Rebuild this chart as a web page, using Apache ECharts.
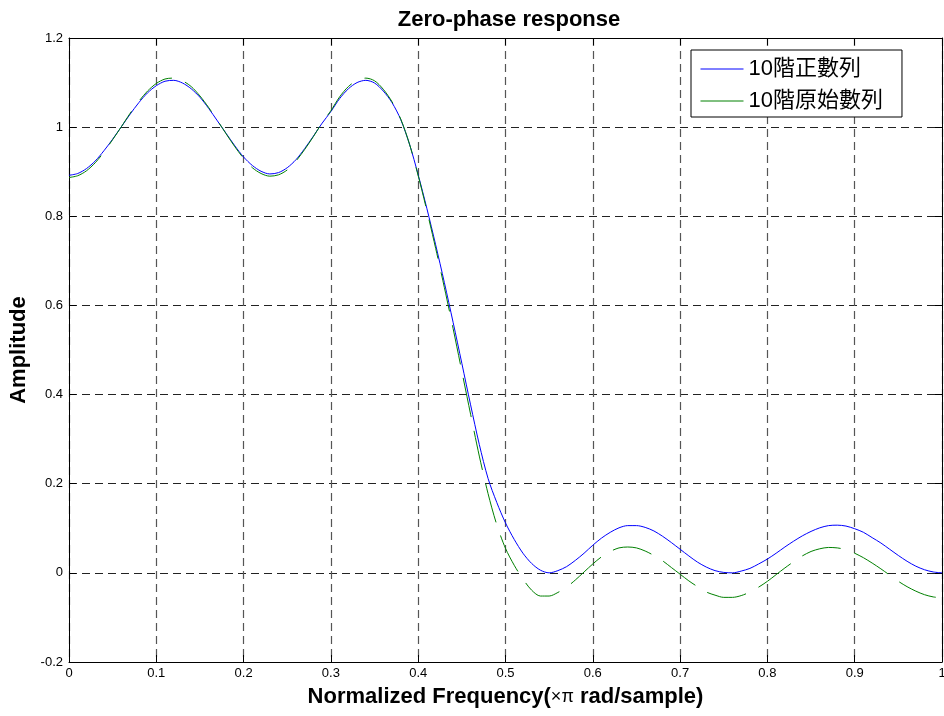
<!DOCTYPE html>
<html>
<head>
<meta charset="utf-8">
<script src="https://cdn.jsdelivr.net/npm/echarts@6/dist/echarts.min.js"></script>
<style>
  html, body { margin: 0; padding: 0; background: #fff; }
  #chart { width: 944px; height: 716px; }
</style>
</head>
<body>
<div id="chart"></div>
<script>
// 频率轴 (×π rad/sample)
var freq = [
  0.00, 0.01, 0.02, 0.03, 0.04, 0.05, 0.06, 0.07, 0.08, 0.09,
  0.10, 0.11, 0.12, 0.13, 0.14, 0.15, 0.16, 0.17, 0.18, 0.19,
  0.20, 0.21, 0.22, 0.23, 0.24, 0.25, 0.26, 0.27, 0.28, 0.29,
  0.30, 0.31, 0.32, 0.33, 0.34, 0.35, 0.36, 0.37, 0.38, 0.39,
  0.40, 0.41, 0.42, 0.43, 0.44, 0.45, 0.46, 0.47, 0.48, 0.49,
  0.50, 0.51, 0.52, 0.53, 0.54, 0.55, 0.56, 0.57, 0.58, 0.59,
  0.60, 0.61, 0.62, 0.63, 0.64, 0.65, 0.66, 0.67, 0.68, 0.69,
  0.70, 0.71, 0.72, 0.73, 0.74, 0.75, 0.76, 0.77, 0.78, 0.79,
  0.80, 0.81, 0.82, 0.83, 0.84, 0.85, 0.86, 0.87, 0.88, 0.89,
  0.90, 0.91, 0.92, 0.93, 0.94, 0.95, 0.96, 0.97, 0.98, 0.99,
  1.00
];

// 10階正數列 (blue)
var positiveAmp = [
  0.892, 0.896, 0.907, 0.924, 0.947, 0.973, 1.001, 1.029, 1.055, 1.077,
  1.093, 1.103, 1.105, 1.099, 1.086, 1.067, 1.042, 1.014, 0.986, 0.958,
  0.933, 0.914, 0.901, 0.895, 0.898, 0.909, 0.927, 0.952, 0.980, 1.009,
  1.035, 1.064, 1.086, 1.100, 1.105, 1.099, 1.081, 1.055, 1.017, 0.962,
  0.893, 0.817, 0.736, 0.651, 0.562, 0.470, 0.377, 0.288, 0.212, 0.158,
  0.112, 0.075, 0.044, 0.021, 0.006, 0.000, 0.005, 0.014, 0.028, 0.044,
  0.062, 0.078, 0.091, 0.101, 0.106, 0.106, 0.102, 0.094, 0.082, 0.068,
  0.053, 0.038, 0.024, 0.013, 0.005, 0.001, 0.000, 0.004, 0.010, 0.020,
  0.031, 0.044, 0.058, 0.071, 0.083, 0.093, 0.101, 0.106, 0.107, 0.105,
  0.099, 0.091, 0.079, 0.067, 0.053, 0.039, 0.026, 0.015, 0.007, 0.002,
  0.000
];

// 10階原始數列 (green, dashed)
var originalAmp = [
  0.887, 0.891, 0.902, 0.920, 0.944, 0.972, 1.001, 1.031, 1.058, 1.081,
  1.098, 1.108, 1.110, 1.104, 1.091, 1.070, 1.044, 1.015, 0.985, 0.956,
  0.930, 0.909, 0.896, 0.890, 0.893, 0.904, 0.924, 0.950, 0.979, 1.010,
  1.037, 1.068, 1.091, 1.105, 1.110, 1.104, 1.085, 1.057, 1.018, 0.962,
  0.891, 0.812, 0.728, 0.640, 0.548, 0.452, 0.356, 0.262, 0.178, 0.108,
  0.055, 0.017, -0.014, -0.039, -0.052, -0.052, -0.044, -0.032, -0.016, 0.002,
  0.020, 0.036, 0.048, 0.056, 0.058, 0.056, 0.049, 0.039, 0.027, 0.012,
  -0.003, -0.018, -0.031, -0.043, -0.050, -0.055, -0.055, -0.051, -0.043, -0.032,
  -0.019, -0.004, 0.011, 0.025, 0.038, 0.048, 0.054, 0.057, 0.056, 0.052,
  0.044, 0.034, 0.022, 0.009, -0.005, -0.019, -0.031, -0.041, -0.049, -0.054,
  -0.056
];

var seriesNames = ['10階正數列', '10階原始數列'];

function pairs(xs, ys) {
  return xs.map(function (x, i) { return [x, ys[i]]; });
}

var font = 'Liberation Sans, Arial, Helvetica, sans-serif';

var chart = echarts.init(document.getElementById('chart'));
chart.setOption({
  animation: false,
  backgroundColor: '#fff',
  textStyle: { fontFamily: font },
  title: {
    text: 'Zero-phase response',
    left: 504,
    top: 4,
    textAlign: 'center',
    textStyle: { fontSize: 22, fontWeight: 'bold', color: '#000', fontFamily: font }
  },
  grid: { left: 69, right: 2, top: 38, bottom: 54, containLabel: false, outerBoundsMode: 'none' },
  legend: {
    orient: 'vertical',
    left: 691,
    top: 50,
    padding: [8, 19, 5, 9],
    itemGap: 10,
    itemWidth: 43,
    itemHeight: 22,
    selectedMode: false,
    backgroundColor: '#fff',
    borderColor: '#000',
    borderWidth: 1,
    borderRadius: 0,
    itemStyle: { opacity: 0, borderWidth: 0 },
    lineStyle: { type: 'solid', width: 1, opacity: 1 },
    textStyle: { fontSize: 22, color: '#000', fontFamily: 'Liberation Sans, "Noto Sans CJK TC", sans-serif' },
    data: seriesNames
  },
  xAxis: [
    {
      type: 'value',
      min: 0,
      max: 1,
      interval: 0.1,
      name: '{a|Normalized Frequency(}{b|×π}{a| rad/sample)}',
      nameLocation: 'middle',
      nameGap: 24,
      nameTextStyle: {
        rich: {
          a: { fontSize: 22, fontWeight: 'bold', color: '#000', fontFamily: font },
          b: { fontSize: 18, fontWeight: 'normal', color: '#000', fontFamily: font }
        }
      },
      axisLine: { show: true, onZero: false, lineStyle: { color: '#000', width: 1 } },
      axisTick: { show: true, inside: true, length: 7, lineStyle: { color: '#000' } },
      axisLabel: { fontSize: 13, color: '#000', margin: 5 },
      splitLine: { show: true, lineStyle: { color: '#555', type: [8, 5], width: 1.2 } }
    },
    {
      type: 'value',
      position: 'top',
      min: 0,
      max: 1,
      interval: 0.1,
      axisLine: { show: true, onZero: false, lineStyle: { color: '#000', width: 1 } },
      axisTick: { show: true, inside: true, length: 7, lineStyle: { color: '#000' } },
      axisLabel: { show: false },
      splitLine: { show: false }
    }
  ],
  yAxis: [
    {
      type: 'value',
      min: -0.2,
      max: 1.2,
      interval: 0.2,
      name: 'Amplitude',
      nameLocation: 'middle',
      nameGap: 34,
      nameTextStyle: { fontSize: 22, fontWeight: 'bold', color: '#000', fontFamily: font },
      axisLine: { show: true, onZero: false, lineStyle: { color: '#000', width: 1 } },
      axisTick: { show: true, inside: true, length: 7, lineStyle: { color: '#000' } },
      axisLabel: { fontSize: 13, color: '#000', margin: 6 },
      splitLine: { show: true, lineStyle: { color: '#222', type: [8, 5], width: 1 } }
    },
    {
      type: 'value',
      position: 'right',
      min: -0.2,
      max: 1.2,
      interval: 0.2,
      axisLine: { show: true, onZero: false, lineStyle: { color: '#000', width: 1 } },
      axisTick: { show: true, inside: true, length: 7, lineStyle: { color: '#000' } },
      axisLabel: { show: false },
      splitLine: { show: false }
    }
  ],
  series: [
    {
      name: seriesNames[0],
      type: 'line',
      xAxisIndex: 0,
      yAxisIndex: 0,
      data: pairs(freq, positiveAmp),
      showSymbol: false,
      symbol: 'none',
      smooth: 0.3,
      lineStyle: { color: '#0000ff', width: 1 },
      itemStyle: { color: '#0000ff' }
    },
    {
      name: seriesNames[1],
      type: 'line',
      xAxisIndex: 0,
      yAxisIndex: 0,
      data: pairs(freq, originalAmp),
      showSymbol: false,
      symbol: 'none',
      smooth: 0.3,
      lineStyle: { color: '#008000', width: 1, type: [40, 14] },
      itemStyle: { color: '#008000' }
    }
  ]
});
</script>
</body>
</html>
